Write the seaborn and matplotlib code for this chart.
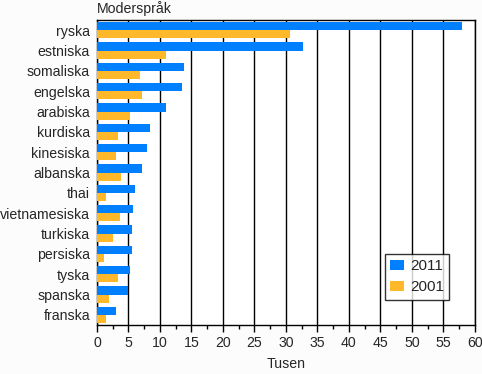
import pandas as pd
import matplotlib.pyplot as plt
import seaborn as sns
from matplotlib.ticker import MultipleLocator

# Data (tusental)
sprak = ['ryska', 'estniska', 'somaliska', 'engelska', 'arabiska', 'kurdiska',
         'kinesiska', 'albanska', 'thai', 'vietnamesiska', 'turkiska',
         'persiska', 'tyska', 'spanska', 'franska']
ar_2011 = [57.9, 32.8, 13.9, 13.5, 11.0, 8.5, 8.0, 7.2, 6.1, 5.8, 5.5, 5.5, 5.3, 4.9, 3.0]
ar_2001 = [30.7, 10.9, 6.8, 7.2, 5.2, 3.3, 3.1, 3.8, 1.5, 3.6, 2.5, 1.2, 3.3, 2.0, 1.5]

df = pd.concat([
    pd.DataFrame({'sprak': sprak, 'varde': ar_2011, 'ar': '2011'}),
    pd.DataFrame({'sprak': sprak, 'varde': ar_2001, 'ar': '2001'}),
])

sns.set_theme(style="white")
plt.rcParams['font.family'] = ['Liberation Sans', 'DejaVu Sans']

fs = 10.2
fig = plt.figure(figsize=(4.82, 3.74), dpi=100)
fig.patch.set_facecolor('#fcfcfc')
ax = fig.add_axes([0.201, 0.131, 0.784, 0.8155])

sns.barplot(data=df, y='sprak', x='varde', hue='ar', orient='h',
            palette={'2011': '#0080ff', '2001': '#ffb829'},
            width=0.8, saturation=1, ax=ax, zorder=3,
            edgecolor='none', linewidth=0)

ax.set_xlim(0, 60)
ax.xaxis.set_major_locator(MultipleLocator(5))
ax.xaxis.set_minor_locator(MultipleLocator(2.5))
ax.grid(axis='x', which='major', color='black', linewidth=1, zorder=0)
ax.set_axisbelow(True)
ax.tick_params(axis='x', which='major', direction='out', length=5, width=1,
               labelsize=fs, bottom=True, color='black', pad=3)
ax.tick_params(axis='x', which='minor', direction='out', length=3, width=1,
               bottom=True, color='black')
ax.tick_params(axis='y', length=0, labelsize=fs, pad=5)
for s in ax.spines.values():
    s.set_color('black')
    s.set_linewidth(1)

ax.set_ylabel('')
ax.set_xlabel('Tusen', fontsize=fs, labelpad=5)
ax.text(0, 1.012, 'Moderspråk', transform=ax.transAxes, fontsize=fs,
        ha='left', va='bottom')

leg = ax.legend(loc='lower right', bbox_to_anchor=(0.953, 0.058), fontsize=11,
                frameon=True, fancybox=False, edgecolor='black',
                handlelength=0.9, handleheight=0.6, borderpad=0.35,
                labelspacing=0.45, handletextpad=0.4)
leg.get_frame().set_linewidth(1)

fig.savefig('out.png', dpi=100, facecolor=fig.get_facecolor())
